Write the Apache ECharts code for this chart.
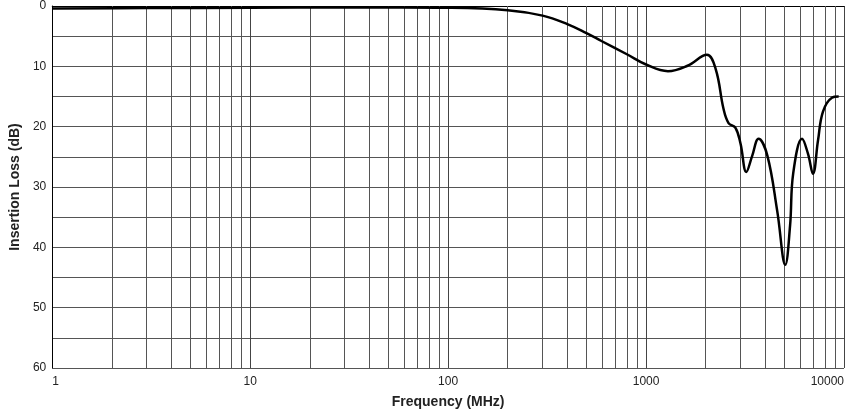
<!DOCTYPE html>
<html>
  <head>
    <meta charset="utf-8" />
    <script src="https://cdn.jsdelivr.net/npm/echarts@6/dist/echarts.min.js"></script>
  </head>
  <body style="margin: 0">
    <div id="main" style="width: 847px; height: 414px"></div>
    <script type="text/javascript">
      // frequency in MHz, insertion loss in dB
      const freq = [1, 3, 10, 30, 100, 200, 300, 400, 500, 595, 800, 1000, 1290, 1620, 2030, 2250, 2460, 2610, 2830, 3000, 3210, 3440, 3700, 4100, 4600, 5050, 5340, 5540, 6140, 6580, 6970, 7390, 7830, 8690, 9400];
      const loss = [0.4, 0.35, 0.3, 0.2, 0.3, 0.7, 1.6, 3.0, 4.5, 5.8, 8.0, 9.7, 10.8, 9.9, 8.1, 10.5, 17, 19.4, 20.2, 22.8, 27.5, 24.8, 22, 24.8, 34, 42.9, 36.4, 27.7, 22, 24.5, 27.8, 22.3, 17.5, 15.2, 15];
      const yTicks = [0, 10, 20, 30, 40, 50, 60];

      // vertical grid at 2..9 of each decade
      const minorX = [];
      [1, 10, 100, 1000].forEach((d) => {
        for (let k = 2; k <= 9; k++) minorX.push(d * k);
      });

      const option = {
        animation: false,
        grid: { left: 47, right: 2, top: 2, bottom: 41 },
        xAxis: {
          type: "log",
          logBase: 10,
          min: 1,
          max: 10000,
          name: "Frequency (MHz)",
          nameLocation: "middle",
          nameGap: 27,
          nameTextStyle: { fontFamily: "Liberation Sans", fontWeight: "bold", fontSize: 14, color: "#222" },
          axisLine: { lineStyle: { color: "#000" } },
          axisTick: { show: false },
          axisLabel: {
            fontFamily: "Liberation Sans",
            fontSize: 12,
            color: "#222",
            formatter: (v) => String(Math.round(v)),
            alignMinLabel: "left",
            alignMaxLabel: "right",
          },
          splitLine: { show: true, lineStyle: { color: "#444", width: 1 } },
        },
        yAxis: {
          type: "value",
          inverse: true,
          min: 0,
          max: 60,
          interval: 5,
          name: "Insertion Loss (dB)",
          nameLocation: "middle",
          nameGap: 30,
          nameTextStyle: { fontFamily: "Liberation Sans", fontWeight: "bold", fontSize: 14, color: "#222" },
          axisLine: { show: true, lineStyle: { color: "#000" } },
          axisTick: { show: false },
          axisLabel: {
            fontFamily: "Liberation Sans",
            fontSize: 12,
            color: "#222",
            margin: 6,
            formatter: (v) => (yTicks.includes(v) ? String(v) : ""),
          },
          splitLine: { show: true, lineStyle: { color: "#555", width: 1 } },
        },
        series: [
          {
            type: "line",
            data: freq.map((f, i) => [f, loss[i]]),
            smooth: 0.4,
            showSymbol: false,
            lineStyle: { color: "#000", width: 2.5 },
            markLine: {
              silent: true,
              symbol: "none",
              label: { show: false },
              lineStyle: { color: "#555", width: 1, type: "solid" },
              data: minorX.map((v) => ({ xAxis: v })),
            },
            z: 5,
          },
        ],
      };

      const myChart = echarts.init(document.getElementById("main"));
      myChart.setOption(option);
    </script>
  </body>
</html>
